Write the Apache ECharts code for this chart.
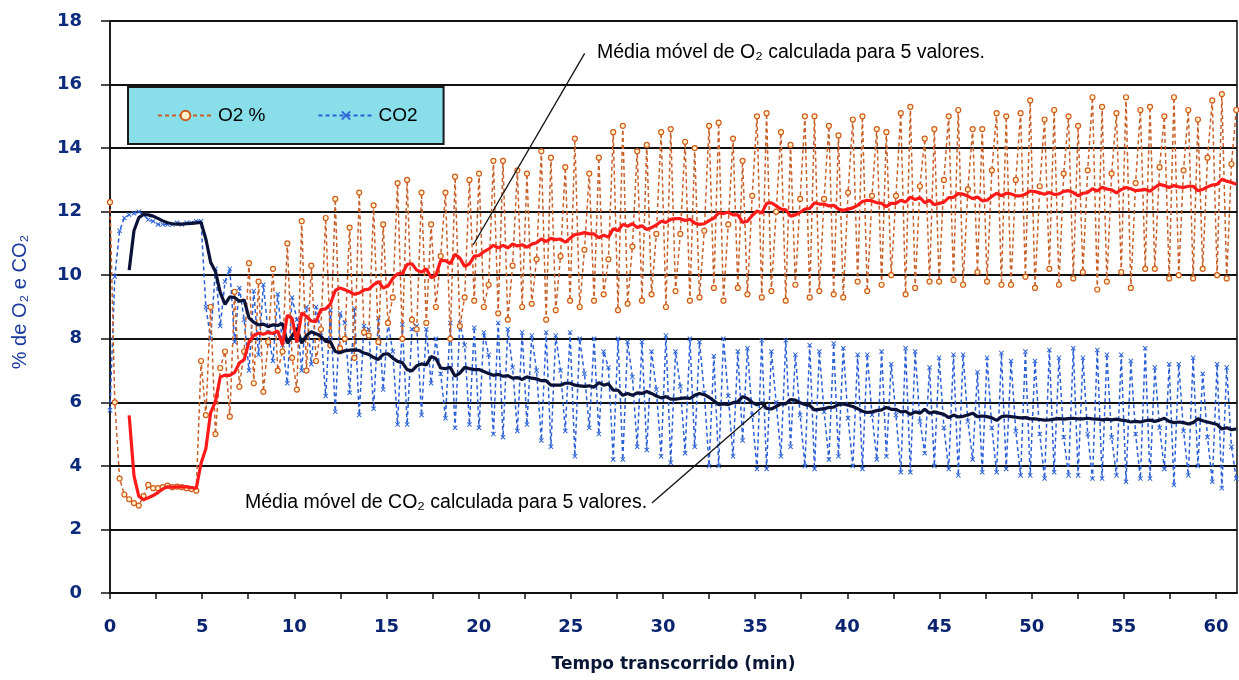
<!DOCTYPE html>
<html>
<head>
<meta charset="utf-8">
<script src="https://cdn.jsdelivr.net/npm/echarts@6/dist/echarts.min.js"></script>
<style>
html,body{margin:0;padding:0;background:#ffffff;}
#chart{width:1239px;height:680px;}
</style>
</head>
<body>
<div id="chart"></div>
<script>
// ---- data ----
const SAMPLE_INTERVAL_MIN = 0.26;      // one reading every ~15.6 s
const MOVING_AVERAGE_WINDOW = 5;       // "calculada para 5 valores"

const o2Percent = [
  12.3, 6.0, 3.6, 3.1, 2.95, 2.83, 2.75, 3.05, 3.4, 3.3, 3.3, 3.33, 3.38, 3.33, 3.35, 3.33, 3.3, 3.27, 3.22,
  7.3, 5.6, 9.0, 5.0, 7.08, 7.6, 5.55, 9.48, 6.49, 7.6, 10.38, 6.6, 9.8, 6.33, 7.9, 10.2, 7.0, 7.6,
  11.0, 7.4, 6.4, 11.7, 7.0,
  10.3, 7.3, 8.3, 11.8, 7.8,
  12.4, 7.7, 8.0, 11.5, 7.4,
  12.6, 8.2, 8.1, 12.2, 7.9,
  11.6, 8.5, 9.3, 12.9, 8.0,
  13.0, 8.6, 8.3, 12.6, 8.5,
  11.6, 9.0, 10.6, 12.6, 8.0,
  13.1, 8.4, 9.3, 13.0, 9.2,
  13.2, 9.0, 9.7, 13.6, 8.8,
  13.6, 8.6, 10.3, 13.3, 9.0,
  13.2, 9.1, 10.5, 13.9, 8.6,
  13.7, 8.9, 10.6, 13.4, 9.2,
  14.3, 9.0, 10.8, 13.2, 9.2,
  13.7, 9.4, 10.5, 14.5, 8.9,
  14.7, 9.1, 10.9, 13.9, 9.2,
  14.1, 9.4, 11.3, 14.5, 9.0,
  14.6, 9.5, 11.3, 14.2, 9.2,
  14.0, 9.3, 11.4, 14.7, 9.6,
  14.8, 9.2, 11.6, 14.3, 9.6,
  13.6, 9.4, 12.5, 15.0, 9.3,
  15.1, 9.5, 12.0, 14.5, 9.2,
  14.1, 9.7, 12.4, 15.0, 9.3,
  15.0, 9.5, 12.4, 14.7, 9.4,
  14.4, 9.3, 12.6, 14.9, 9.8,
  15.0, 9.5, 12.5, 14.6, 9.7,
  14.5, 10.0, 12.5, 15.1, 9.4,
  15.3, 9.6, 12.8, 14.3, 9.8,
  14.6, 9.8, 13.0, 15.0, 9.85,
  15.2, 9.7, 12.7, 14.6, 10.1,
  14.6, 9.8, 13.3, 15.1, 9.7,
  15.0, 9.7, 13.0, 15.1, 9.95,
  15.5, 9.6, 12.8, 14.9, 10.2,
  15.2, 9.7, 13.2, 15.0, 9.9,
  14.7, 10.1, 13.3, 15.6, 9.55,
  15.3, 9.8, 13.2, 15.1, 10.1,
  15.6, 9.6, 12.9, 15.2, 10.2,
  15.3, 10.2, 13.4, 15.0, 9.9,
  15.6, 10.0, 13.3, 15.2, 9.9,
  14.9, 10.2, 13.7, 15.5, 10.0,
  15.7, 9.9, 13.5, 15.2
];

const co2Percent = [
  5.75, 9.95, 11.4, 11.8, 11.9, 11.95, 12.0, 11.9, 11.75, 11.7, 11.6, 11.6, 11.6, 11.6, 11.65, 11.6, 11.65, 11.65, 11.7,
  11.7, 9.0, 8.0, 10.2, 8.4, 9.8, 10.2, 7.9, 9.6, 8.6, 7.0, 9.5, 7.5, 9.7, 8.2, 7.3, 9.4, 7.8,
  6.6, 9.3, 8.6, 7.0, 9.0,
  7.2, 9.0, 8.2, 6.2, 8.9,
  5.7, 8.8, 8.5, 6.3, 8.95,
  5.6, 8.4, 8.3, 5.8, 8.65,
  6.4, 8.5, 7.6, 5.3, 8.45,
  5.3, 8.3, 8.4, 5.6, 8.3,
  6.6, 8.0, 6.9, 5.5, 8.5,
  5.2, 8.5, 7.8, 5.3, 8.35,
  5.2, 8.2, 7.5, 5.0, 8.5,
  4.9, 8.3, 7.1, 5.1, 8.2,
  5.3, 8.1, 7.0, 4.8, 8.2,
  4.6, 8.1, 7.0, 5.1, 8.2,
  4.3, 8.0, 6.9, 5.2, 8.0,
  5.0, 7.6, 7.1, 4.2, 8.0,
  4.2, 7.9, 6.8, 4.6, 7.9,
  4.5, 7.6, 6.4, 4.3, 8.1,
  4.1, 7.6, 6.5, 4.4, 8.0,
  4.6, 7.9, 6.3, 4.0, 7.45,
  4.0, 8.0, 6.2, 4.3, 7.6,
  4.8, 7.7, 5.6, 3.9, 7.95,
  3.9, 7.6, 6.0, 4.3, 7.95,
  4.6, 7.5, 5.6, 4.0, 7.8,
  3.9, 7.6, 5.7, 4.2, 7.85,
  4.3, 7.7, 5.5, 4.0, 7.5,
  3.9, 7.5, 5.6, 4.2, 7.6,
  4.3, 7.2, 5.6, 3.8, 7.7,
  3.8, 7.6, 5.4, 4.4, 7.1,
  4.0, 7.4, 5.2, 3.9, 7.5,
  3.7, 7.5, 5.4, 4.2, 6.95,
  3.8, 7.4, 5.2, 3.8, 7.55,
  3.9, 7.3, 5.1, 3.7, 7.6,
  3.7, 7.3, 5.0, 3.6, 7.65,
  3.8, 7.4, 4.9, 3.7, 7.7,
  3.7, 7.4, 5.0, 3.6, 7.65,
  3.6, 7.5, 4.9, 3.7, 7.5,
  3.5, 7.3, 5.0, 3.6, 7.7,
  3.6, 7.1, 5.2, 3.9, 7.2,
  3.4, 7.2, 5.1, 3.7, 7.4,
  4.0, 6.9, 4.9, 3.5, 7.2,
  3.3, 7.1, 4.6, 3.6
];

const seriesNames = ['O2 %', 'CO2'];
const xAxisTitle = 'Tempo transcorrido (min)';
const yAxisTitle = '% de O\u2082 e CO\u2082';
const noteO2 = 'Média móvel de O\u2082 calculada para 5 valores.';
const noteCO2 = 'Média móvel de CO\u2082 calculada para 5 valores.';

// leader lines of the two notes (data units: [minutes, %])
const noteO2Leader = [[25.75, 16.98], [19.7, 10.95]];
const noteCO2Leader = [[29.4, 2.83], [35.7, 6.01]];

// ---- building the series ----
function toPairs(values) {
  return values.map((v, i) => [+(i * SAMPLE_INTERVAL_MIN).toFixed(3), v]);
}
function movingAverage(values, n) {
  const out = [];
  for (let i = n - 1; i < values.length; i++) {
    let s = 0;
    for (let j = i - n + 1; j <= i; j++) s += values[j];
    out.push([+(i * SAMPLE_INTERVAL_MIN).toFixed(3), +(s / n).toFixed(3)]);
  }
  return out;
}

const chart = echarts.init(document.getElementById('chart'), null, {renderer: 'canvas'});
const X_PATH = 'path://M0,1.4L1.4,0L5,3.6L8.6,0L10,1.4L6.4,5L10,8.6L8.6,10L5,6.4L1.4,10L0,8.6L3.6,5Z';

const option = {
  animation: false,
  backgroundColor: '#ffffff',
  grid: {left: 110, right: 2, top: 21, bottom: 87, show: true, borderColor: '#111', borderWidth: 1.5, containLabel: false},
  legend: {
    data: seriesNames,
    left: 128, top: 87,
    orient: 'horizontal',
    backgroundColor: '#88dfe9',
    borderColor: '#1a1a1a', borderWidth: 2,
    padding: [19, 26, 19, 29],
    itemWidth: 55, itemHeight: 12, itemGap: 52,
    textStyle: {fontFamily: '"Liberation Sans", Arial, sans-serif', fontSize: 19, color: '#000'}
  },
  xAxis: {
    type: 'value', min: 0, max: 61.14, interval: 2.5,
    name: xAxisTitle, nameLocation: 'middle', nameGap: 63,
    nameTextStyle: {fontFamily: '"DejaVu Sans", sans-serif', fontWeight: 'bold', fontSize: 17, color: '#0a1636'},
    axisLine: {show: true, lineStyle: {color: '#111', width: 1.5}},
    axisTick: {show: true, length: 6, lineStyle: {color: '#111', width: 1.5}},
    splitLine: {show: false},
    axisLabel: {
      margin: 25, showMaxLabel: false,
      fontFamily: '"DejaVu Sans", sans-serif', fontWeight: 'bold', fontSize: 18, color: '#0b2470',
      formatter: v => (Math.abs(v % 5) < 1e-6 ? String(v) : '')
    }
  },
  yAxis: {
    type: 'value', min: 0, max: 18, interval: 2,
    axisLine: {show: true, lineStyle: {color: '#111', width: 1.5}},
    axisTick: {show: true, length: 9, lineStyle: {color: '#111', width: 1.5}},
    splitLine: {show: true, lineStyle: {color: '#111', width: 2}},
    axisLabel: {margin: 28, fontFamily: '"DejaVu Sans", sans-serif', fontWeight: 'bold', fontSize: 18, color: '#0d2b7d'}
  },
  series: [
    {
      name: 'CO2', type: 'line', data: toPairs(co2Percent),
      symbol: X_PATH, symbolSize: 5, showAllSymbol: true,
      itemStyle: {color: '#2f66d8'},
      lineStyle: {color: '#2b5fd6', width: 1.5, type: [4, 3]},
      z: 2
    },
    {
      name: 'O2 %', type: 'line', data: toPairs(o2Percent),
      symbol: 'circle', symbolSize: 5, showAllSymbol: true,
      itemStyle: {color: '#fff4c8', borderColor: '#cf5a1c', borderWidth: 1.2},
      lineStyle: {color: '#c8602a', width: 1.5, type: [4, 3]},
      z: 3
    },
    {
      name: 'CO2 média móvel', type: 'line', data: movingAverage(co2Percent, MOVING_AVERAGE_WINDOW),
      symbol: 'none', lineStyle: {color: '#0b1238', width: 3.2}, z: 4
    },
    {
      name: 'O2 média móvel', type: 'line', data: movingAverage(o2Percent, MOVING_AVERAGE_WINDOW),
      symbol: 'none', lineStyle: {color: '#ff1a1a', width: 3.2}, z: 5,
      markLine: {
        silent: true, symbol: ['none', 'none'],
        lineStyle: {color: '#111', width: 1.3, type: 'solid'},
        label: {show: false},
        data: [
          [{coord: noteO2Leader[0]}, {coord: noteO2Leader[1]}],
          [{coord: noteCO2Leader[0]}, {coord: noteCO2Leader[1]}]
        ]
      }
    }
  ],
  graphic: [
    {
      type: 'text', left: 597, top: 43, z: 10,
      style: {text: noteO2, font: '19.5px "Liberation Sans", Arial, sans-serif', fill: '#000'}
    },
    {
      type: 'text', left: 245, top: 493, z: 10,
      style: {text: noteCO2, font: '19.5px "Liberation Sans", Arial, sans-serif', fill: '#000'}
    },
    {
      type: 'text', x: 20, y: 302, rotation: Math.PI / 2, z: 10,
      style: {text: yAxisTitle, font: '20px "Liberation Sans", Arial, sans-serif', fill: '#1a3a9e', align: 'center', verticalAlign: 'middle'}
    }
  ]
};
chart.setOption(option);
</script>
</body>
</html>
